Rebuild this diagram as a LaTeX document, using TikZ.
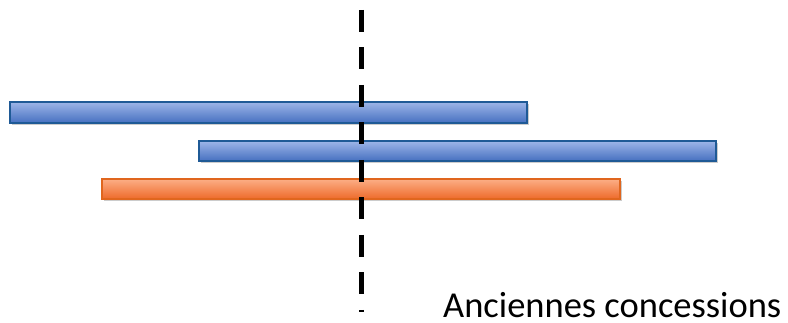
\documentclass[tikz,border=0pt]{standalone}
\usepackage{fontspec}
\setmainfont{Carlito}
\usetikzlibrary{shadows}
\definecolor{bluetop}{HTML}{9DB5E8}
\definecolor{bluebot}{HTML}{4670C0}
\definecolor{blueedge}{HTML}{1F5A96}
\definecolor{orgtop}{HTML}{FCAE86}
\definecolor{orgbot}{HTML}{EE6A2A}
\definecolor{orgedge}{HTML}{E0661E}
\tikzset{
  bar/.style={draw, line width=1.2pt, drop shadow={shadow xshift=1.5pt, shadow yshift=-2.5pt, opacity=0.4}},
  bluebar/.style={bar, draw=blueedge, top color=bluetop, bottom color=bluebot},
  orangebar/.style={bar, draw=orgedge, top color=orgtop, bottom color=orgbot},
  divider/.style={line width=5pt, dash pattern=on 22pt off 15.5pt},
  label/.style={font=\fontsize{36.5pt}{40pt}\selectfont, anchor=base west, inner sep=0pt}
}
\begin{document}
\begin{tikzpicture}[x=1pt,y=-1pt]
\useasboundingbox (0,0) rectangle (788,323);
\path[bluebar] (10,102) rectangle (527,123);
\path[bluebar] (199,141) rectangle (716,161);
\path[orangebar] (102,179) rectangle (620,199);
\coordinate (top) at (361,10);
\coordinate (bot) at (361,312);
\draw[divider] (top) -- (bot);
\node[label] (lbl) at (443,317.5) {Anciennes concessions};
\end{tikzpicture}
\end{document}
